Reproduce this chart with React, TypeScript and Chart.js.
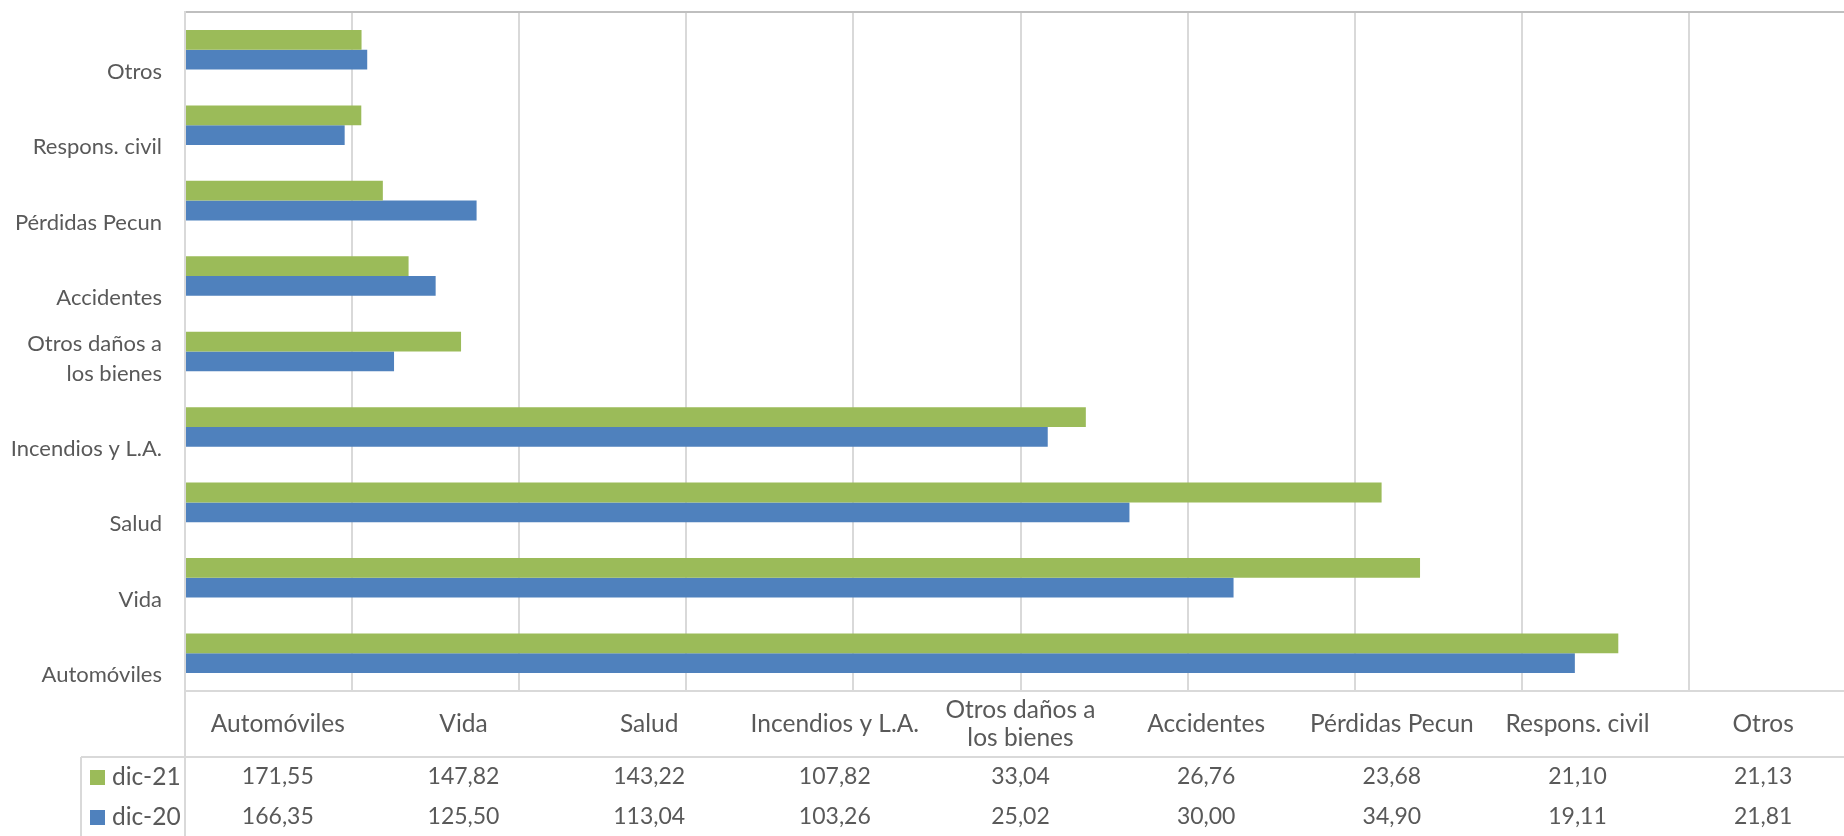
import React, { useEffect, useRef } from "react";
import { Chart, registerables } from "chart.js";

Chart.register(...registerables);

const categories = [
  "Automóviles",
  "Vida",
  "Salud",
  "Incendios y L.A.",
  "Otros daños a los bienes",
  "Accidentes",
  "Pérdidas Pecun",
  "Respons. civil",
  "Otros",
];
const dic21 = [171.55, 147.82, 143.22, 107.82, 33.04, 26.76, 23.68, 21.1, 21.13];
const dic20 = [166.35, 125.5, 113.04, 103.26, 25.02, 30.0, 34.9, 19.11, 21.81];
const seriesNames = ["dic-21", "dic-20"];
const seriesColors = ["#9BBB59", "#4F81BD"];

const FONT = "Lato";
const AXIS_SIZE = 22;
const HDR_SIZE = 24.5;
const VAL_SIZE = 23;
const TXT = "#595959";
const LINE = "#d9d9d9";

function splitLabel(s: string): string[] {
  if (s === "Otros daños a los bienes") return ["Otros daños a", "los bienes"];
  return [s];
}
const fmt = (v: number) => v.toFixed(2).replace(".", ",");

const tablePlugin = {
  id: "dataTable",
  afterDraw(chart: any) {
    const ctx = chart.ctx;
    const area = chart.chartArea;
    const xs = chart.scales.x;
    const left = area.left;
    const right = xs.getPixelForValue(200);
    const colW = (right - left) / categories.length;
    const top = area.bottom;
    const hdrBottom = top + 66;
    const row1 = hdrBottom + 20;
    const row2 = hdrBottom + 60;
    const legLeft = 81;
    ctx.save();
    ctx.strokeStyle = LINE;
    ctx.lineWidth = 2;
    ctx.beginPath();
    ctx.moveTo(left, top);
    ctx.lineTo(chart.width, top);
    ctx.moveTo(left, area.top);
    ctx.lineTo(left, chart.height);
    ctx.moveTo(legLeft, hdrBottom);
    ctx.lineTo(chart.width, hdrBottom);
    ctx.moveTo(legLeft, hdrBottom);
    ctx.lineTo(legLeft, chart.height);
    ctx.stroke();

    ctx.fillStyle = TXT;
    ctx.textAlign = "center";
    ctx.textBaseline = "middle";
    const hdrMid = (top + hdrBottom) / 2;
    categories.forEach((c, i) => {
      const cx = left + colW * (i + 0.5);
      const lines = splitLabel(c);
      const lh = 28;
      ctx.font = `${HDR_SIZE}px ${FONT}`;
      lines.forEach((ln, j) => {
        ctx.fillText(ln, cx, hdrMid + (j - (lines.length - 1) / 2) * lh);
      });
      ctx.font = `${VAL_SIZE}px ${FONT}`;
      ctx.fillText(fmt(dic21[i]), cx, row1);
      ctx.fillText(fmt(dic20[i]), cx, row2);
    });
    ctx.textAlign = "left";
    ctx.font = `${HDR_SIZE}px ${FONT}`;
    [row1, row2].forEach((y, k) => {
      ctx.fillStyle = seriesColors[k];
      ctx.fillRect(90, y - 7, 15, 15);
      ctx.fillStyle = TXT;
      ctx.fillText(seriesNames[k], 112, y);
    });
    ctx.restore();
  },
};

export default function App() {
  const ref = useRef<HTMLCanvasElement | null>(null);
  useEffect(() => {
    if (!ref.current) return;
    const labels = [...categories].reverse();
    const chart = new Chart(ref.current, {
      type: "bar",
      data: {
        labels,
        datasets: [
          {
            label: seriesNames[0],
            data: [...dic21].reverse(),
            backgroundColor: seriesColors[0],
            barPercentage: 1,
            categoryPercentage: 0.524,
          },
          {
            label: seriesNames[1],
            data: [...dic20].reverse(),
            backgroundColor: seriesColors[1],
            barPercentage: 1,
            categoryPercentage: 0.524,
          },
        ],
      },
      options: {
        indexAxis: "y",
        animation: false,
        responsive: true,
        maintainAspectRatio: false,
        layout: { padding: { left: 0, top: 12, right: 14, bottom: 145 } },
        plugins: { legend: { display: false }, tooltip: { enabled: false } },
        scales: {
          x: {
            position: "top",
            min: 0,
            max: 200,
            ticks: { display: false, stepSize: 20 },
            grid: {
              drawTicks: false,
              color: (c: any) => (c.tick && c.tick.value === 0 ? "rgba(0,0,0,0)" : LINE),
              lineWidth: 2,
            },
            border: { display: true, color: "#bfbfbf", width: 2 },
            afterFit: (s: any) => {
              s.height = 0;
              s.paddingLeft = 0;
              s.paddingRight = 0;
            },
          },
          y: {
            grid: { display: false, drawTicks: false },
            border: { display: true, color: LINE, width: 2 },
            ticks: {
              color: TXT,
              padding: 23,
              labelOffset: 7,
              font: { family: FONT, size: AXIS_SIZE, lineHeight: 30 / AXIS_SIZE },
              callback: function (this: any, v: any) {
                const s = this.getLabelForValue(v);
                const l = splitLabel(s);
                return l.length > 1 ? l : ["", s];
              },
            },
            afterFit: (s: any) => {
              s.width = 185;
              s.paddingTop = 0;
              s.paddingBottom = 0;
            },
          },
        },
      },
      plugins: [tablePlugin],
    } as any);
    return () => chart.destroy();
  }, []);
  return (
    <div
      style={{
        position: "absolute",
        left: 0,
        top: 0,
        width: 1844,
        height: 836,
        overflow: "hidden",
        background: "#fff",
      }}
    >
      <div style={{ position: "relative", width: 1870, height: 836 }}>
        <canvas ref={ref} />
      </div>
    </div>
  );
}
